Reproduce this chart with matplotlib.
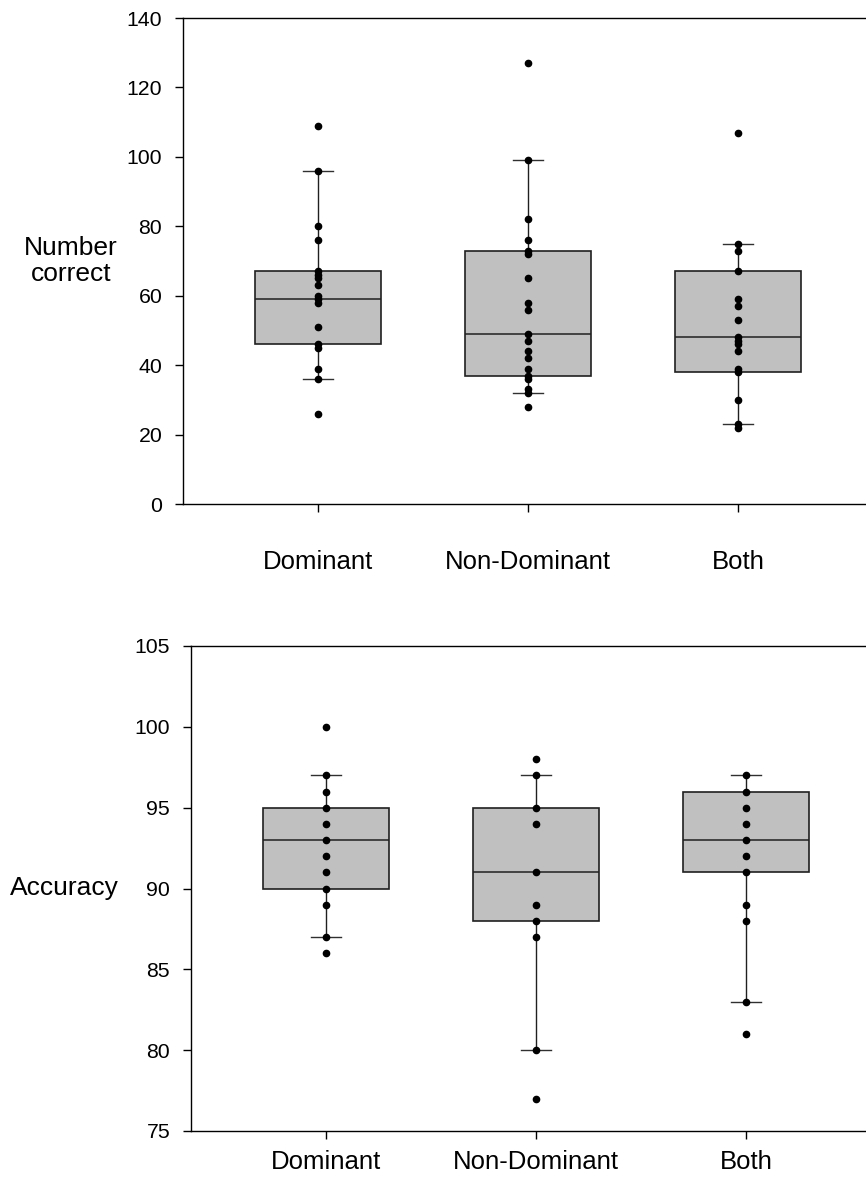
"""
Box plots of number correct and accuracy per hand condition
"""

import matplotlib
matplotlib.use('Agg')
import matplotlib.pyplot as plt

plt.rcParams['font.family'] = ['Liberation Sans', 'DejaVu Sans']

# Conditions
groups = ['Dominant', 'Non-Dominant', 'Both']

# Individual scores, number correct
correct_dom = [109, 96, 80, 76, 67, 66, 65, 63, 60, 59, 58, 51, 46, 45, 39, 36, 26]
correct_nondom = [127, 99, 82, 76, 73, 72, 65, 58, 56, 49, 47, 44, 42, 39, 37, 36, 33, 32, 28]
correct_both = [107, 75, 73, 67, 59, 57, 53, 48, 47, 46, 44, 39, 38, 30, 23, 22]

# Box summaries, number correct (10th, 25th, 50th, 75th, 90th percentile)
correct_p10 = [36, 32, 23]
correct_q1 = [46, 37, 38]
correct_med = [59, 49, 48]
correct_q3 = [67, 73, 67]
correct_p90 = [96, 99, 75]

# Individual scores, accuracy
acc_dom = [100, 97, 96, 95, 94, 93, 92, 91, 90, 89, 87, 86]
acc_nondom = [98, 97, 95, 94, 91, 89, 88, 87, 80, 77]
acc_both = [97, 96, 95, 94, 93, 92, 91, 89, 88, 83, 81]

# Box summaries, accuracy
acc_p10 = [87, 80, 83]
acc_q1 = [90, 88, 91]
acc_med = [93, 91, 93]
acc_q3 = [95, 95, 96]
acc_p90 = [97, 97, 97]


def draw_panel(ax, points, p10, q1, med, q3, p90, ylim, yticks, ylabel,
               label_x, xpad):
    """Draw one box panel with overlaid individual points"""

    stats = [dict(whislo=lo, q1=a, med=m, q3=b, whishi=hi, fliers=[])
             for lo, a, m, b, hi in zip(p10, q1, med, q3, p90)]
    pos = list(range(1, len(groups) + 1))

    ax.bxp(stats, positions=pos, widths=0.6, capwidths=0.14,
           showfliers=False, patch_artist=True,
           boxprops=dict(facecolor='#c0c0c0', edgecolor='#202020', linewidth=1.2),
           medianprops=dict(color='#202020', linewidth=1.1),
           whiskerprops=dict(color='#202020', linewidth=1.0),
           capprops=dict(color='#303030', linewidth=1.0))

    # Overlay individual values
    for p, vals in zip(pos, points):
        ax.plot([p] * len(vals), vals, 'o', color='black', ms=4.5, zorder=5)

    ax.set_xlim(0.357, 3.643)
    ax.set_ylim(*ylim)
    ax.set_yticks(yticks)
    ax.set_xticks(pos)
    ax.set_xticklabels(groups, fontsize=18.5)
    ax.tick_params(axis='y', labelsize=15.3, length=6, width=1, pad=9)
    ax.tick_params(axis='x', length=6, width=1, pad=xpad)
    for s in ax.spines.values():
        s.set_linewidth(1.0)

    ax.text(label_x, 0.5, ylabel, transform=ax.transAxes, fontsize=19,
            ha='center', va='center', linespacing=1.15)


fig = plt.figure(figsize=(8.66, 11.8), dpi=100)

ax_top = fig.add_axes([183 / 866, 676 / 1180, 690 / 866, 486 / 1180])
draw_panel(ax_top, [correct_dom, correct_nondom, correct_both],
           correct_p10, correct_q1, correct_med, correct_q3, correct_p90,
           (0, 140), range(0, 141, 20), 'Number\ncorrect', -0.162, 27)

ax_bot = fig.add_axes([191 / 866, 49 / 1180, 690 / 866, 485 / 1180])
draw_panel(ax_bot, [acc_dom, acc_nondom, acc_both],
           acc_p10, acc_q1, acc_med, acc_q3, acc_p90,
           (75, 105), range(75, 106, 5), 'Accuracy', -0.183, 8)

fig.savefig('out.png', dpi=100)
